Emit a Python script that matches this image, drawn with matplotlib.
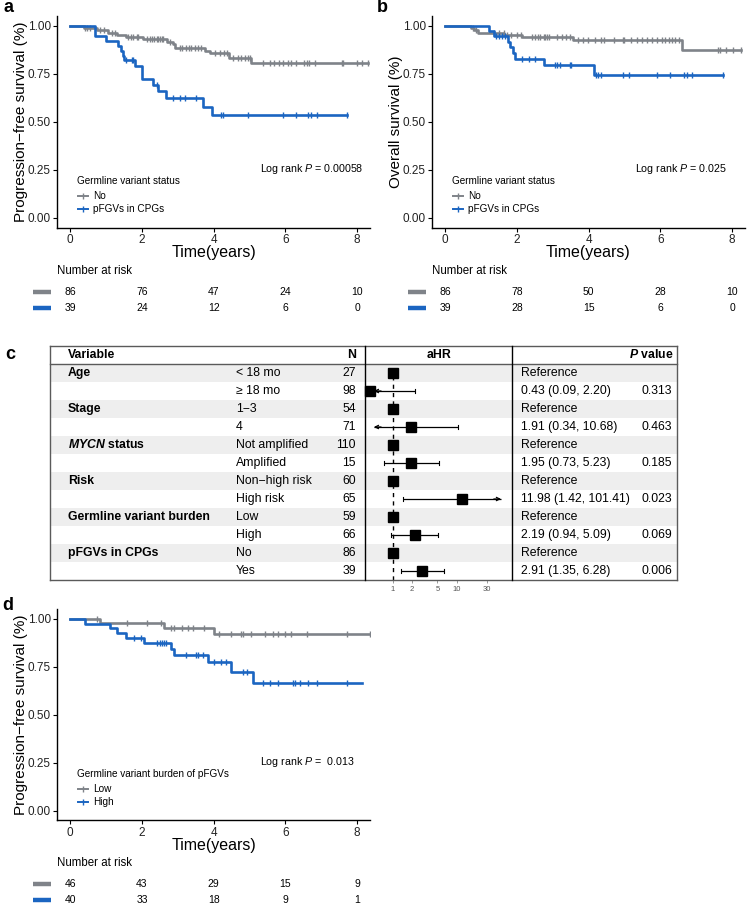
import numpy as np
import matplotlib
matplotlib.use("Agg")
import matplotlib.pyplot as plt
from matplotlib.lines import Line2D
from matplotlib.patches import Rectangle
from matplotlib import transforms

plt.rcParams['font.family'] = ['Liberation Sans', 'DejaVu Sans']
plt.rcParams['mathtext.fontset'] = 'custom'
plt.rcParams['mathtext.rm'] = 'Liberation Sans'
plt.rcParams['mathtext.it'] = 'Liberation Sans:italic'
plt.rcParams['mathtext.bf'] = 'Liberation Sans:bold'
plt.rcParams['mathtext.bfit'] = 'Liberation Sans:bold:italic'

# ---------------- data ----------------
# panel a: progression-free survival by germline variant status
a_no_t = [0.37, 0.74, 1.06, 1.30, 1.56, 2.04, 2.69, 2.87, 2.92, 3.75, 3.89, 4.43, 5.05]
a_no_s = [0.988, 0.977, 0.965, 0.953, 0.942, 0.930, 0.918, 0.905, 0.887, 0.872, 0.857, 0.833, 0.807]
a_no_cens = [0.42, 0.48, 0.56, 0.83, 0.93, 1.16, 1.25, 1.60, 1.69, 1.76, 1.85, 1.90, 2.13, 2.22,
             2.27, 2.33, 2.41, 2.45, 2.50, 2.55, 2.59, 2.78, 3.06, 3.13, 3.22, 3.30, 3.38, 3.47,
             3.56, 3.66, 4.03, 4.17, 4.28, 4.37, 4.54, 4.68, 4.77, 4.86, 4.95, 5.00, 5.37, 5.56,
             5.69, 5.83, 5.94, 6.06, 6.16, 6.30, 6.53, 6.59, 6.65, 6.83, 7.59, 7.62, 7.99, 8.15, 8.31]
a_no_end = 8.31
a_yes_t = [0.69, 1.00, 1.34, 1.41, 1.46, 1.50, 1.81, 1.99, 2.31, 2.45, 2.66, 3.70, 3.94]
a_yes_s = [0.949, 0.923, 0.897, 0.872, 0.846, 0.821, 0.790, 0.724, 0.693, 0.663, 0.627, 0.580, 0.537]
a_yes_cens = [1.56, 1.71, 1.76, 2.41, 2.87, 3.06, 3.19, 3.52, 4.21, 4.26, 4.95, 5.93, 6.30,
              6.62, 6.71, 6.87, 7.73]
a_yes_end = 7.73
a_risk_no = [86, 76, 47, 24, 10]
a_risk_yes = [39, 24, 12, 6, 0]

# panel b: overall survival by germline variant status
b_no_t = [0.72, 0.80, 0.90, 1.65, 2.14, 3.57, 6.60]
b_no_s = [0.988, 0.977, 0.965, 0.953, 0.941, 0.928, 0.875]
b_no_cens = [0.76, 0.86, 1.36, 1.50, 1.64, 1.73, 1.82, 2.00, 2.10, 2.42, 2.51, 2.60, 2.65, 2.74,
             2.79, 2.83, 2.88, 3.11, 3.25, 3.38, 3.48, 3.71, 3.84, 3.98, 4.17, 4.35, 4.44, 4.72,
             4.95, 4.99, 5.18, 5.36, 5.50, 5.64, 5.77, 5.91, 6.05, 6.14, 6.23, 6.33, 6.42, 6.51,
             7.61, 7.66, 7.84, 8.03, 8.26]
b_no_end = 8.26
b_yes_t = [1.22, 1.36, 1.75, 1.80, 1.88, 1.95, 2.74, 4.15]
b_yes_s = [0.974, 0.949, 0.918, 0.892, 0.858, 0.828, 0.797, 0.743]
b_yes_cens = [1.41, 1.50, 1.59, 1.68, 2.14, 2.33, 2.51, 3.06, 3.11, 3.20, 3.48, 3.52, 4.21, 4.26,
              4.35, 4.95, 5.13, 5.91, 6.28, 6.65, 6.74, 6.88, 7.75]
b_yes_end = 7.75
b_risk_no = [86, 78, 50, 28, 10]
b_risk_yes = [39, 28, 15, 6, 0]

# panel d: progression-free survival by germline variant burden
d_low_t = [0.83, 2.61, 4.02]
d_low_s = [0.978, 0.953, 0.922]
d_low_cens = [0.74, 1.58, 2.15, 2.52, 2.80, 2.89, 3.13, 3.27, 3.41, 3.74, 4.16, 4.49, 4.77, 4.82,
              5.05, 5.42, 5.66, 5.80, 5.99, 6.17, 6.60, 7.72, 8.37]
d_low_end = 8.37
d_high_t = [0.41, 1.11, 1.30, 1.56, 2.05, 2.80, 2.89, 3.83, 4.47, 5.10]
d_high_s = [0.975, 0.950, 0.925, 0.900, 0.872, 0.842, 0.810, 0.772, 0.722, 0.664]
d_high_cens = [1.77, 1.96, 2.43, 2.50, 2.55, 2.61, 2.66, 3.22, 3.50, 3.55, 3.69, 4.02, 4.21, 4.35,
               4.82, 4.93, 5.38, 5.56, 5.80, 6.22, 6.27, 6.41, 6.64, 6.88, 7.72]
d_high_end = 8.14
d_risk_low = [46, 43, 29, 15, 9]
d_risk_high = [40, 33, 18, 9, 1]

risk_times = [0, 2, 4, 6, 8]

# panel c: multivariable Cox model
groups = ["Age", "", "Stage", "", r"$\mathbfit{MYCN}$ status", "", "Risk", "",
          "Germline variant burden", "", "pFGVs in CPGs", ""]
levels = ["< 18 mo", "\u2265 18 mo", "1\u22123", "4", "Not amplified", "Amplified",
          "Non\u2212high risk", "High risk", "Low", "High", "No", "Yes"]
n_obs = [27, 98, 54, 71, 110, 15, 60, 65, 59, 66, 86, 39]
hr = [1, 0.43, 1, 1.91, 1, 1.95, 1, 11.98, 1, 2.19, 1, 2.91]
ci_lo = [np.nan, 0.09, np.nan, 0.34, np.nan, 0.73, np.nan, 1.42, np.nan, 0.94, np.nan, 1.35]
ci_hi = [np.nan, 2.20, np.nan, 10.68, np.nan, 5.23, np.nan, 101.41, np.nan, 5.09, np.nan, 6.28]
pvals = ["", "0.313", "", "0.463", "", "0.185", "", "0.023", "", "0.069", "", "0.006"]
hr_ticks = [1, 2, 5, 10, 30]

GRAY = '#7F8389'
BLUE = '#1B65C1'

W, H = 750, 916
fig = plt.figure(figsize=(W / 100, H / 100), dpi=100)


def fx(x):
    return x / W


def fy(y):
    return 1 - y / H


def add_ax(l, t, r, b):
    return fig.add_axes([l / W, 1 - b / H, (r - l) / W, (b - t) / H])


def ftext(x, y, s, **kw):
    kw.setdefault('va', 'center')
    return fig.text(fx(x), fy(y), s, **kw)


def fline(x0, x1, y0, y1, **kw):
    fig.add_artist(Line2D([fx(x0), fx(x1)], [fy(y0), fy(y1)], transform=fig.transFigure, **kw))


def km(ax, t_ev, s_ev, cens, t_end, color):
    tt = np.r_[0.0, t_ev, t_end]
    ss = np.r_[1.0, s_ev, s_ev[-1]]
    ax.step(tt, ss, where='post', color=color, lw=1.9)
    cens = np.asarray(cens)
    idx = np.searchsorted(np.asarray(t_ev), cens, side='right')
    sc = np.r_[1.0, s_ev][idx]
    ax.plot(cens, sc, ls='none', marker='|', ms=5, mew=1.0, color=color)


XLIM = (-0.37, 8.36)


def km_panel(l, t, r, b, curves, leg_items, ylabel, ylab_x, leg_title, pv_text, risks,
             letter, letter_xy):
    ax = add_ax(l, t, r, b)
    for (te, se, ce, en, col) in curves:
        km(ax, te, se, ce, en, col)
    ax.set_xlim(*XLIM)
    ax.set_ylim(-0.05, 1.05)
    ax.set_xticks([0, 2, 4, 6, 8])
    ax.set_yticks([0, 0.25, 0.5, 0.75, 1.0])
    ax.set_yticklabels(["0.00", "0.25", "0.50", "0.75", "1.00"])
    for s in ['top', 'right']:
        ax.spines[s].set_visible(False)
    for s in ['left', 'bottom']:
        ax.spines[s].set_linewidth(1.0)
    ax.tick_params(length=3, width=0.8, labelsize=8.5, labelcolor='#222222', pad=1.5)
    ax.patch.set_alpha(0)
    ftext(ylab_x, (t + b) / 2, ylabel, rotation=90, ha='center', fontsize=11)
    ftext((l + r) / 2, b + 25, "Time(years)", ha='center', fontsize=11.5)
    # legend
    ftext(l + 20, b - 46.5, leg_title, ha='left', fontsize=7.2)
    for k, (lab, col) in enumerate(leg_items):
        yy = b - 31.5 + 13 * k
        fline(l + 21, l + 31, yy, yy, color=col, lw=1.4)
        fig.add_artist(Line2D([fx(l + 26)], [fy(yy)], transform=fig.transFigure, marker='|',
                              ms=4.5, mew=1.0, color=col, ls='none'))
        ftext(l + 36, yy, lab, ha='left', fontsize=7.2)
    ftext(l + 203, b - 58.5, pv_text, ha='left', fontsize=7.7)
    # risk table
    ftext(l, b + 43, "Number at risk", ha='left', fontsize=8.3)
    trans = transforms.blended_transform_factory(ax.transData, fig.transFigure)
    for k, (vals, col) in enumerate(risks):
        yy = b + 64 + 16 * k
        fline(l - 24, l - 6, yy, yy, color=col, lw=3.2, solid_capstyle='butt')
        for tv, v in zip(risk_times, vals):
            ax.text(tv, fy(yy), str(v), transform=trans, ha='center', va='center', fontsize=7.5,
                    clip_on=False)
    ftext(letter_xy[0], letter_xy[1], letter, ha='center', fontsize=13, fontweight='bold')
    return ax


km_panel(57, 16.4, 370, 227.6,
         [(a_no_t, a_no_s, a_no_cens, a_no_end, GRAY), (a_yes_t, a_yes_s, a_yes_cens, a_yes_end, BLUE)],
         [("No", GRAY), ("pFGVs in CPGs", BLUE)],
         "Progression\u2212free survival (%)", 21, "Germline variant status",
         r"Log rank $\mathit{P}$ = 0.00058",
         [(a_risk_no, GRAY), (a_risk_yes, BLUE)], "a", (8, 8))

km_panel(432, 16.4, 745, 227.6,
         [(b_no_t, b_no_s, b_no_cens, b_no_end, GRAY), (b_yes_t, b_yes_s, b_yes_cens, b_yes_end, BLUE)],
         [("No", GRAY), ("pFGVs in CPGs", BLUE)],
         "Overall survival (%)", 396, "Germline variant status",
         r"Log rank $\mathit{P}$ = 0.025",
         [(b_risk_no, GRAY), (b_risk_yes, BLUE)], "b", (382, 8))

km_panel(57, 609.1, 370, 820.3,
         [(d_low_t, d_low_s, d_low_cens, d_low_end, GRAY), (d_high_t, d_high_s, d_high_cens, d_high_end, BLUE)],
         [("Low", GRAY), ("High", BLUE)],
         "Progression\u2212free survival (%)", 21, "Germline variant burden of pFGVs",
         r"Log rank $\mathit{P}$ =  0.013",
         [(d_risk_low, GRAY), (d_risk_high, BLUE)], "d", (8, 605))

# ---------------- panel c: forest table ----------------
TL, TR, TT, HB, RH = 50, 677, 346, 364, 18
NR = len(levels)
TB = HB + RH * NR
D1, D2 = 365, 512

for i in range(NR):
    if i % 2 == 0:
        y0 = HB + RH * i
        fig.add_artist(Rectangle((fx(TL), fy(y0 + RH)), (TR - TL) / W, RH / H,
                                 transform=fig.transFigure, facecolor='#EEEEEE', edgecolor='none',
                                 zorder=0))

BORDER = '#5a5a5a'
fline(TL, TR, TT, TT, color=BORDER, lw=1.0)
fline(TL, TR, HB, HB, color=BORDER, lw=1.0)
fline(TL, TR, TB, TB, color=BORDER, lw=1.0)
fline(TL, TL, TT, TB, color=BORDER, lw=1.0)
fline(TR, TR, TT, TB, color=BORDER, lw=1.0)
fline(D1, D1, TT, TB, color='black', lw=1.0)
fline(D2, D2, TT, TB, color='black', lw=1.0)

FS = 8.8
hy = (TT + HB) / 2
ftext(68, hy, "Variable", ha='left', fontsize=FS, fontweight='bold')
ftext(356, hy, "N", ha='right', fontsize=FS, fontweight='bold')
ftext(439, hy, "aHR", ha='center', fontsize=FS, fontweight='bold')
ftext(673, hy, r"$\mathbfit{P}$ value", ha='right', fontsize=FS, fontweight='bold')

for i in range(NR):
    yc = HB + RH * i + RH / 2
    if groups[i]:
        ftext(68, yc, groups[i], ha='left', fontsize=FS, fontweight='bold')
    ftext(236, yc, levels[i], ha='left', fontsize=FS)
    ftext(356, yc, str(n_obs[i]), ha='right', fontsize=FS)
    if np.isnan(ci_lo[i]):
        est = "Reference"
    else:
        est = f"{hr[i]:.2f} ({ci_lo[i]:.2f}, {ci_hi[i]:.2f})"
    ftext(521, yc, est, ha='left', fontsize=FS)
    if pvals[i]:
        ftext(672, yc, pvals[i], ha='right', fontsize=FS)

fax = add_ax(D1, HB, D2, TB)
fax.set_xscale('log')
fax.set_xlim(0.363, 74.3)
fax.set_ylim(NR, 0)
fax.patch.set_alpha(0)
for s in fax.spines.values():
    s.set_visible(False)
fax.set_yticks([])
fax.set_xticks(hr_ticks)
fax.set_xticklabels([str(v) for v in hr_ticks])
fax.xaxis.set_minor_locator(matplotlib.ticker.NullLocator())
fax.tick_params(axis='x', length=2.5, width=0.6, color='#888888', labelsize=5.5,
                labelcolor='#555555', pad=1.5)
fax.axvline(1, color='black', lw=1.0, ls=(0, (3, 3)))
LOW_CLIP, HIGH_CLIP = 0.5, 50
for i in range(NR):
    yv = i + 0.5
    if not np.isnan(ci_lo[i]):
        lo_c = max(ci_lo[i], LOW_CLIP)
        hi_c = min(ci_hi[i], HIGH_CLIP)
        fax.plot([lo_c, hi_c], [yv, yv], color='black', lw=0.9, solid_capstyle='butt')
        if ci_lo[i] < LOW_CLIP:
            fax.annotate('', xy=(LOW_CLIP, yv), xytext=(LOW_CLIP * 1.3, yv),
                         arrowprops=dict(arrowstyle='->', lw=0.9, color='black',
                                         mutation_scale=6, shrinkA=0, shrinkB=0))
        else:
            fax.plot([lo_c, lo_c], [yv - 0.12, yv + 0.12], color='black', lw=0.8)
        if ci_hi[i] > HIGH_CLIP:
            fax.annotate('', xy=(HIGH_CLIP, yv), xytext=(HIGH_CLIP / 1.3, yv),
                         arrowprops=dict(arrowstyle='->', lw=0.9, color='black',
                                         mutation_scale=6, shrinkA=0, shrinkB=0))
        else:
            fax.plot([hi_c, hi_c], [yv - 0.12, yv + 0.12], color='black', lw=0.8)
    fax.plot([hr[i]], [yv], marker='s', ms=7, color='black', ls='none', clip_on=False, zorder=5)

ftext(10, 355, "c", ha='center', fontsize=13, fontweight='bold')

fig.savefig("out.png", dpi=100)
